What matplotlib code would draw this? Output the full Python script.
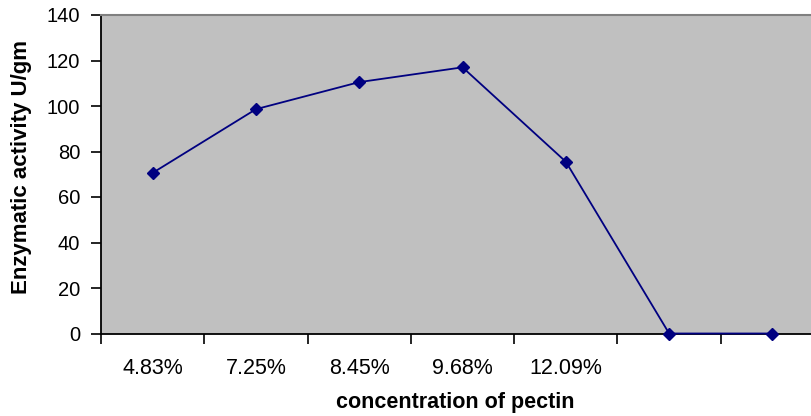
import matplotlib
matplotlib.use("Agg")
import matplotlib.pyplot as plt

categories = ["4.83%", "7.25%", "8.45%", "9.68%", "12.09%", "", ""]
activity = [70.6, 98.6, 110.5, 117.0, 75.5, 0, 0]

plt.rcParams['font.family'] = ['Liberation Sans', 'DejaVu Sans']

W, H = 812, 416
fig = plt.figure(figsize=(W / 100, H / 100), dpi=100)
left, right, top, bottom = 101, 812, 15, 333.5
ax = fig.add_axes([left / W, (H - bottom) / H, (right - left) / W, (bottom - top) / H])
ax.set_facecolor('#C0C0C0')

x = list(range(1, len(categories) + 1))
ax.plot(x, activity, color='#000080', lw=1.3, marker='D', ms=6, mfc='#000080', mec='#000080', clip_on=False, zorder=3)

step = 103.3
ax.set_xlim(0.5, 0.5 + (right - left) / step)
ax.set_ylim(0, 140)
ax.set_yticks(range(0, 141, 20))
ax.set_xticks([i + 0.5 for i in range(0, 7)], minor=False)
ax.set_xticklabels([])
ax.set_xticks(x, minor=True)
ax.set_xticklabels(categories, minor=True, fontsize=15.5)
ax.tick_params(axis='x', which='minor', length=0, pad=17.5)
ax.tick_params(axis='x', which='major', length=7, width=1.2, direction='out')
ax.tick_params(axis='y', length=7, width=1.2, direction='out', labelsize=14.5, pad=8)

for s in ['left', 'bottom']:
    ax.spines[s].set_color('black')
    ax.spines[s].set_linewidth(1.3)
ax.spines['top'].set_color('#808080')
ax.spines['top'].set_linewidth(1.5)
ax.spines['right'].set_visible(False)

ax.set_xlabel('concentration of pectin', fontsize=15.5, fontweight='bold', va='center')
ax.xaxis.set_label_coords((455 - left) / (right - left), (bottom - 402.5) / (bottom - top))
ax.set_ylabel('Enzymatic activity U/gm', fontsize=16, fontweight='bold')
ax.yaxis.set_label_coords((32 - left) / (right - left), (bottom - 167) / (bottom - top))

fig.savefig('out.png', dpi=100)
